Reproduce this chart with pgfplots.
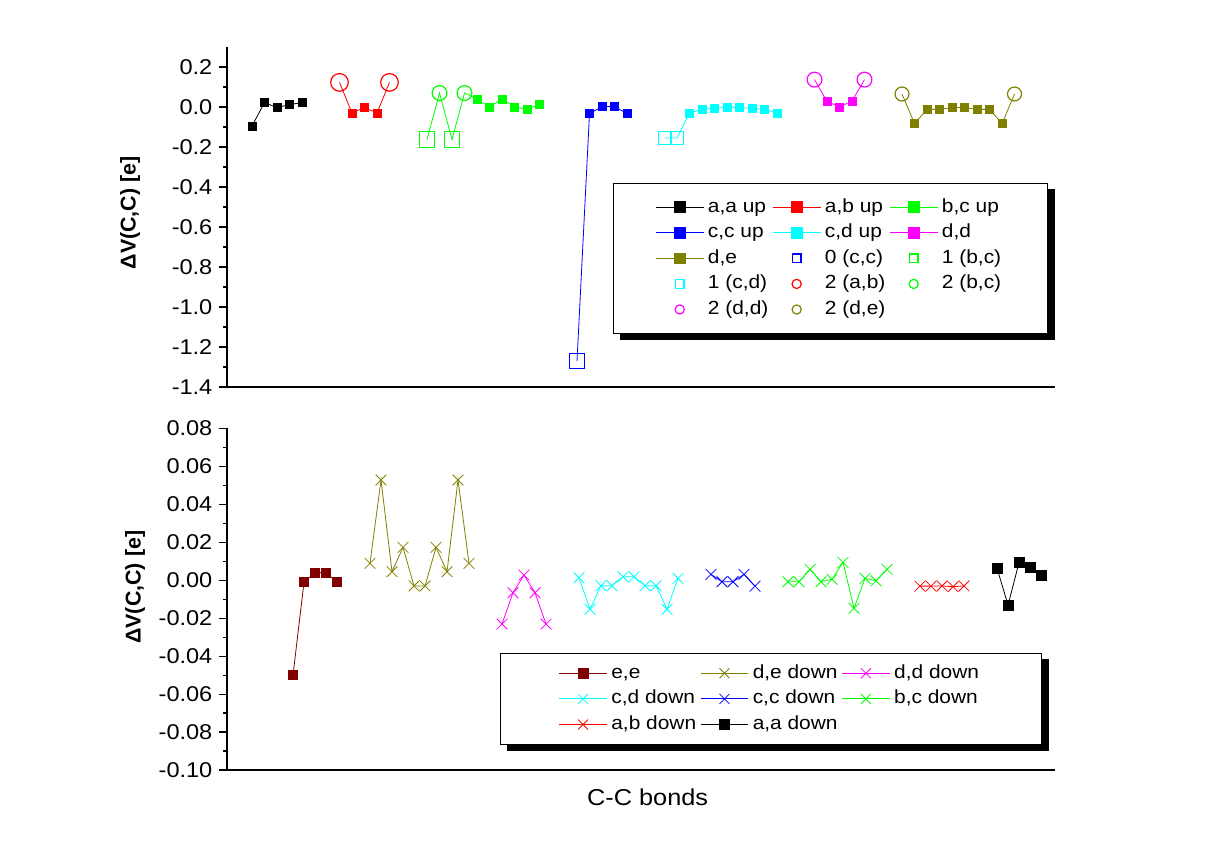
\documentclass[border=0pt]{standalone}
\usepackage{pgfplots}
\pgfplotsset{compat=1.18}
\usepackage{fontspec}
\setmainfont{Liberation Sans}[FakeStretch=1.1]
\newfontfamily\plainsans{Liberation Sans}
\pgfdeclarelayer{bg}
\pgfsetlayers{bg,main}
\definecolor{olv}{RGB}{128,128,0}
\definecolor{dred}{RGB}{128,0,0}
\definecolor{grn}{RGB}{0,255,0}
\definecolor{cyn}{RGB}{0,255,255}
\definecolor{mag}{RGB}{255,0,255}
\pgfplotsset{
  mybase/.style={
    scale only axis, width=414pt,
    axis x line*=bottom, axis y line*=left,
    axis line style={line width=0.7pt, -},
    xtick=\empty,
    tick align=outside,
    major tick length=3.8pt, minor tick length=2pt,
    minor y tick num=1,
    every tick/.style={black, line width=0.6pt},
    y tick label style={font=\fontsize{10.7}{12}\selectfont},
    /pgf/number format/assume math mode=true,
    /pgf/number format/fixed, /pgf/number format/fixed zerofill,
    legend columns=3,
    legend cell align=left,
    legend image code/.code={\draw[mark repeat=2,mark phase=2,##1] plot coordinates {(0cm,0cm) (0.42cm,0cm) (0.84cm,0cm)};},
    legend style={draw=black, line width=0.5pt, fill=white, anchor=north west,
       font=\fontsize{9.5}{11}\selectfont,
       row sep=1.8pt,
       nodes={inner xsep=2pt, inner ysep=0.5pt, text height=7.5pt, text depth=2.5pt}},
  },
}
\begin{document}
\begin{tikzpicture}
\path[use as bounding box] (0,0) rectangle (604pt,424pt);
% ---------------- top panel ----------------
\begin{axis}[mybase, at={(113.5pt,230.5pt)}, anchor=south west, height=170pt,
  xmin=0, xmax=66.24, ymin=-1.4, ymax=0.3,
  ytick={-1.4,-1.2,-1.0,-0.8,-0.6,-0.4,-0.2,0,0.2},
  /pgf/number format/precision=1,
  ylabel={\plainsans\bfseries\fontsize{10.7}{12}\selectfont ΔV(C,C) [e]},
  ylabel style={at={(axis description cs:-0.117,0.512)}, anchor=center},
  legend style={name=legtop, at={(axis description cs:0.466,0.6)}, inner xsep=21pt, inner ysep=6.3pt},
]
\addlegendimage{black, line width=0.4pt, mark=square*, mark size=2.7pt}
\addlegendentry{a,a up}
\addlegendimage{red, line width=0.4pt, mark=square*, mark size=2.7pt}
\addlegendentry{a,b up}
\addlegendimage{grn, line width=0.4pt, mark=square*, mark size=2.7pt}
\addlegendentry{b,c up}
\addlegendimage{blue, line width=0.4pt, mark=square*, mark size=2.7pt}
\addlegendentry{c,c up}
\addlegendimage{cyn, line width=0.4pt, mark=square*, mark size=2.7pt}
\addlegendentry{c,d up}
\addlegendimage{mag, line width=0.4pt, mark=square*, mark size=2.7pt}
\addlegendentry{d,d}
\addlegendimage{olv, line width=0.4pt, mark=square*, mark size=2.7pt}
\addlegendentry{d,e}
\addlegendimage{only marks, blue, line width=0.6pt, mark=square, mark size=2.2pt}
\addlegendentry{0 (c,c)}
\addlegendimage{only marks, grn, line width=0.6pt, mark=square, mark size=2.2pt}
\addlegendentry{1 (b,c)}
\addlegendimage{only marks, cyn, line width=0.6pt, mark=square, mark size=2.2pt}
\addlegendentry{1 (c,d)}
\addlegendimage{only marks, red, line width=0.6pt, mark=o, mark size=2.3pt}
\addlegendentry{2 (a,b)}
\addlegendimage{only marks, grn, line width=0.6pt, mark=o, mark size=2.3pt}
\addlegendentry{2 (b,c)}
\addlegendimage{only marks, mag, line width=0.6pt, mark=o, mark size=2.3pt}
\addlegendentry{2 (d,d)}
\addlegendimage{only marks, olv, line width=0.6pt, mark=o, mark size=2.3pt}
\addlegendentry{2 (d,e)}
% lines with filled marks
\addplot[forget plot, black, line width=0.4pt, mark=square*, mark size=2pt]
  coordinates {(2,-0.095) (3,0.022) (4,-0.003) (5,0.012) (6,0.022)};
\addplot[forget plot, red, line width=0.4pt, mark=square*, mark size=2pt, mark indices={2,3,4}]
  coordinates {(9,0.123) (10,-0.030) (11,-0.003) (12,-0.030) (13,0.123)};
\addplot[forget plot, grn, line width=0.4pt, mark=square*, mark size=2pt, mark indices={5,6,7,8,9,10}]
  coordinates {(16,-0.163) (17,0.070) (18,-0.163) (19,0.070) (20,0.040) (21,0.000) (22,0.040) (23,0.000) (24,-0.012) (25,0.013)};
\addplot[forget plot, blue, line width=0.4pt, mark=square*, mark size=2pt, mark indices={2,3,4,5}]
  coordinates {(28,-1.270) (29,-0.033) (30,0.002) (31,0.002) (32,-0.033)};
\addplot[forget plot, cyn, line width=0.4pt, mark=square*, mark size=2pt, mark indices={3,4,5,6,7,8,9,10}]
  coordinates {(35,-0.155) (36,-0.155) (37,-0.030) (38,-0.012) (39,-0.005) (40,-0.002) (41,-0.002) (42,-0.007) (43,-0.012) (44,-0.030)};
\addplot[forget plot, mag, line width=0.4pt, mark=square*, mark size=2pt, mark indices={2,3,4}]
  coordinates {(47,0.137) (48,0.028) (49,0.000) (50,0.030) (51,0.137)};
\addplot[forget plot, olv, line width=0.4pt, mark=square*, mark size=2pt, mark indices={2,3,4,5,6,7,8,9}]
  coordinates {(54,0.065) (55,-0.083) (56,-0.012) (57,-0.012) (58,-0.003) (59,-0.003) (60,-0.012) (61,-0.012) (62,-0.083) (63,0.065)};
% hollow marks
\addplot[forget plot, only marks, blue, line width=0.6pt, mark=square, mark size=3.9pt, mark options={fill=white}]
  coordinates {(28,-1.270)};
\addplot[forget plot, only marks, grn, line width=0.6pt, mark=square, mark size=3.9pt, mark options={fill=white}]
  coordinates {(16,-0.163) (18,-0.163)};
\addplot[forget plot, only marks, cyn, line width=0.6pt, mark=square, mark size=3.2pt, mark options={fill=white}]
  coordinates {(35,-0.155) (36,-0.155)};
\addplot[forget plot, only marks, red, line width=0.6pt, mark=o, mark size=4.4pt, mark options={fill=white}]
  coordinates {(9,0.123) (13,0.123)};
\addplot[forget plot, only marks, grn, line width=0.6pt, mark=o, mark size=3.7pt, mark options={fill=white}]
  coordinates {(17,0.070) (19,0.070)};
\addplot[forget plot, only marks, mag, line width=0.6pt, mark=o, mark size=3.7pt, mark options={fill=white}]
  coordinates {(47,0.137) (51,0.137)};
\addplot[forget plot, only marks, olv, line width=0.6pt, mark=o, mark size=3.5pt, mark options={fill=white}]
  coordinates {(54,0.065) (63,0.065)};
\end{axis}
\begin{pgfonlayer}{bg}
\fill[black] ([xshift=3.5pt,yshift=-3pt]legtop.south west) rectangle ([xshift=3.5pt,yshift=-3pt]legtop.north east);
\end{pgfonlayer}
% ---------------- bottom panel ----------------
\begin{axis}[mybase, at={(113.5pt,39pt)}, anchor=south west, height=170.8pt,
  xmin=0, xmax=75.27, ymin=-0.10, ymax=0.08,
  ytick={-0.10,-0.08,-0.06,-0.04,-0.02,0,0.02,0.04,0.06,0.08},
  /pgf/number format/precision=2,
  ylabel={\plainsans\bfseries\fontsize{10.7}{12}\selectfont ΔV(C,C) [e]},
  ylabel style={at={(axis description cs:-0.111,0.535)}, anchor=center},
  xlabel={C-C bonds},
  xlabel style={at={(axis description cs:0.508,-0.079)}, anchor=center, font=\fontsize{11.5}{13}\selectfont},
  legend style={name=legbot, at={(axis description cs:0.33,0.342)}, inner xsep=29pt, inner ysep=4.3pt},
]
\addlegendimage{dred, line width=0.4pt, mark=square*, mark size=2.5pt}
\addlegendentry{e,e}
\addlegendimage{olv, line width=0.4pt, mark=x, mark size=3.5pt}
\addlegendentry{d,e down}
\addlegendimage{mag, line width=0.4pt, mark=x, mark size=3.5pt}
\addlegendentry{d,d down}
\addlegendimage{cyn, line width=0.4pt, mark=x, mark size=3.5pt}
\addlegendentry{c,d down}
\addlegendimage{blue, line width=0.4pt, mark=x, mark size=3.5pt}
\addlegendentry{c,c down}
\addlegendimage{grn, line width=0.4pt, mark=x, mark size=3.5pt}
\addlegendentry{b,c down}
\addlegendimage{red, line width=0.4pt, mark=x, mark size=3.5pt}
\addlegendentry{a,b down}
\addlegendimage{black, line width=0.4pt, mark=square*, mark size=2.5pt}
\addlegendentry{a,a down}
\addplot[forget plot, dred, line width=0.4pt, mark=square*, mark size=2.3pt]
  coordinates {(6,-0.050) (7,-0.001) (8,0.004) (9,0.004) (10,-0.001)};
\addplot[forget plot, olv, line width=0.4pt, mark=x, mark size=3.8pt]
  coordinates {(13,0.0089) (14,0.0528) (15,0.0045) (16,0.0173) (17,-0.0030) (18,-0.0030) (19,0.0173) (20,0.0045) (21,0.0528) (22,0.0089)};
\addplot[forget plot, mag, line width=0.4pt, mark=x, mark size=3.8pt]
  coordinates {(25,-0.0231) (26,-0.0066) (27,0.0027) (28,-0.0066) (29,-0.0231)};
\addplot[forget plot, cyn, line width=0.4pt, mark=x, mark size=3.8pt]
  coordinates {(32,0.0013) (33,-0.0153) (34,-0.0029) (35,-0.0029) (36,0.0018) (37,0.0018) (38,-0.0029) (39,-0.0029) (40,-0.0153) (41,0.0010)};
\addplot[forget plot, blue, line width=0.4pt, mark=x, mark size=3.8pt]
  coordinates {(44,0.0031) (45,-0.0008) (46,-0.0008) (47,0.0031) (48,-0.0031)};
\addplot[forget plot, grn, line width=0.4pt, mark=x, mark size=3.8pt]
  coordinates {(51,-0.0008) (52,-0.0008) (53,0.0057) (54,-0.0008) (55,0.0005) (56,0.0094) (57,-0.0148) (58,0.0010) (59,-0.0003) (60,0.0057)};
\addplot[forget plot, red, line width=0.4pt, mark=x, mark size=3.8pt]
  coordinates {(63,-0.0031) (64,-0.0031) (65,-0.0030) (66,-0.0034) (67,-0.0030)};
\addplot[forget plot, black, line width=0.4pt, mark=square*, mark size=2.5pt]
  coordinates {(70,0.0063) (71,-0.0131) (72,0.0094) (73,0.0068) (74,0.0024)};
\end{axis}
\begin{pgfonlayer}{bg}
\fill[black] ([xshift=3.5pt,yshift=-3pt]legbot.south west) rectangle ([xshift=3.5pt,yshift=-3pt]legbot.north east);
\end{pgfonlayer}
\end{tikzpicture}
\end{document}
